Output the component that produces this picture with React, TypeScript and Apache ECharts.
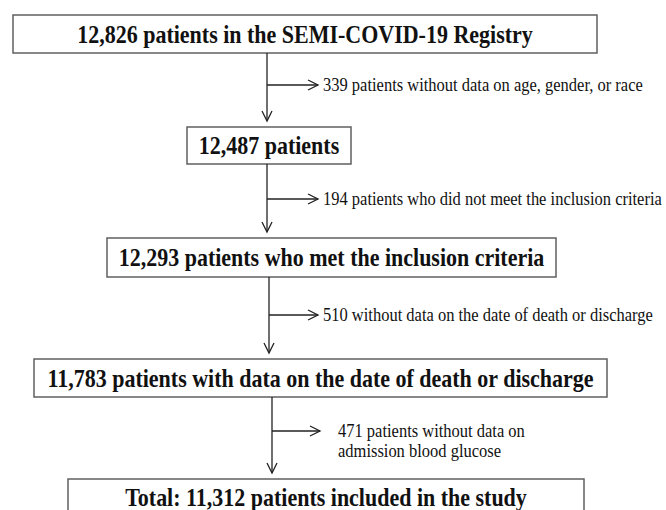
import React, { useEffect, useRef } from "react";
import * as echarts from "echarts";

// ---- data ----
const stepCounts = ["12,826", "12,487", "12,293", "11,783", "11,312"];
const stepLabels = [
  "{n} patients in the SEMI-COVID-19 Registry",
  "{n} patients",
  "{n} patients who met the inclusion criteria",
  "{n} patients with data on the date of death or discharge",
  "Total: {n} patients included in the study",
];
const excludedCounts = ["339", "194", "510", "471"];
const excludedLabels = [
  ["{n} patients without data on age, gender, or race"],
  ["{n} patients who did not meet the inclusion criteria"],
  ["{n} without data on the date of death or discharge"],
  ["{n} patients without data on", "admission blood glucose"],
];

// ---- layout (not data) ----
const boxes = [
  { x0: 13, x1: 597, y0: 15, y1: 53 },
  { x0: 187, x1: 351, y0: 127, y1: 164 },
  { x0: 107, x1: 556, y0: 238, y1: 277 },
  { x0: 34, x1: 607, y0: 359, y1: 397 },
  { x0: 68, x1: 584, y0: 479, y1: 520 },
];
const links = [
  { x: 267, yBranch: 85, armEnd: 318, textX: 323 },
  { x: 267, yBranch: 199, armEnd: 318, textX: 323 },
  { x: 269, yBranch: 315, armEnd: 318, textX: 323 },
  { x: 272, yBranch: 431, armEnd: 320, textX: 338 },
];

const LINE = "#222";
const BORDER = "#606060";
const FONT = '"Liberation Serif", "Times New Roman", serif';

export default function App() {
  const ref = useRef<HTMLDivElement>(null);
  useEffect(() => {
    if (!ref.current) return;
    const chart = echarts.init(ref.current, null, { renderer: "svg" });
    const els: any[] = [];
    boxes.forEach((b, i) => {
      els.push({
        type: "rect",
        shape: { x: b.x0, y: b.y0, width: b.x1 - b.x0, height: b.y1 - b.y0 },
        style: { fill: "#fff", stroke: BORDER, lineWidth: 1.5 },
      });
      const yc = i === 4 ? 497 : (b.y0 + b.y1) / 2;
      els.push({
        type: "text",
        x: (b.x0 + b.x1) / 2,
        y: yc,
        scaleY: 1.15,
        style: {
          text: stepLabels[i].replace("{n}", stepCounts[i]),
          fontSize: 22,
          fontWeight: "bold",
          fontFamily: FONT,
          fill: "#111",
          align: "center",
          verticalAlign: "middle",
        },
      });
    });
    links.forEach((l, i) => {
      const top = boxes[i].y1;
      const tip = boxes[i + 1].y0 - 6;
      els.push({
        type: "line",
        shape: { x1: l.x, y1: top, x2: l.x, y2: tip },
        style: { stroke: LINE, lineWidth: 1.3 },
      });
      els.push({
        type: "polyline",
        shape: { points: [[l.x - 5, tip - 10], [l.x, tip], [l.x + 5, tip - 10]] },
        style: { stroke: LINE, lineWidth: 1.3, fill: null },
      });
      els.push({
        type: "line",
        shape: { x1: l.x, y1: l.yBranch, x2: l.armEnd, y2: l.yBranch },
        style: { stroke: LINE, lineWidth: 1.3 },
      });
      els.push({
        type: "polyline",
        shape: {
          points: [[l.armEnd - 10, l.yBranch - 5], [l.armEnd, l.yBranch], [l.armEnd - 10, l.yBranch + 5]],
        },
        style: { stroke: LINE, lineWidth: 1.3, fill: null },
      });
      const lines = excludedLabels[i];
      lines.forEach((t, j) => {
        els.push({
          type: "text",
          x: l.textX,
          y: l.yBranch + j * 20,
          scaleY: 1.15,
          style: {
            text: t.replace("{n}", excludedCounts[i]),
            fontSize: 16.5,
            fontFamily: FONT,
            fill: "#111",
            align: "left",
            verticalAlign: "middle",
          },
        });
      });
    });
    chart.setOption({ animation: false, backgroundColor: "#fff", graphic: { elements: els } });
    return () => chart.dispose();
  }, []);
  return (
    <div
      ref={ref}
      style={{ position: "fixed", left: 0, top: 0, width: 666, height: 510, background: "#fff" }}
    />
  );
}
